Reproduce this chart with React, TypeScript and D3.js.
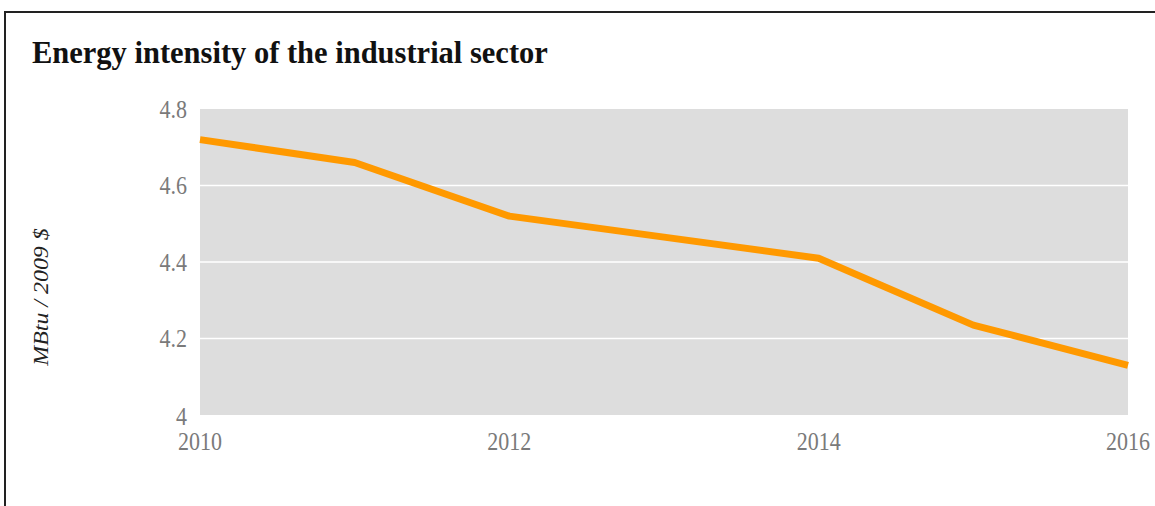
import { useEffect, useRef } from "react";
import * as d3 from "d3";

const years = [2010, 2011, 2012, 2013, 2014, 2015, 2016];
const intensity = [4.72, 4.66, 4.52, 4.465, 4.41, 4.235, 4.13];
const yTicks = [4, 4.2, 4.4, 4.6, 4.8];
const xTicks = [2010, 2012, 2014, 2016];

const titleText = "Energy intensity of the industrial sector";
const yAxisTitle = "MBtu / 2009 $";

export default function App() {
  const svgRef = useRef<SVGSVGElement>(null);
  const width = 1155;
  const height = 506;

  useEffect(() => {
    if (!svgRef.current) return;
    const svg = d3.select(svgRef.current);
    svg.selectAll("*").remove();

    const margin = { top: 109, right: 27, bottom: 91, left: 200 };
    const font = "'Liberation Serif', 'Times New Roman', serif";
    const stretch = 1.14; // source text looks slightly tall

    const x = d3
      .scaleLinear()
      .domain([2010, 2016])
      .range([margin.left, width - margin.right]);
    const y = d3
      .scaleLinear()
      .domain([4, 4.8])
      .range([height - margin.bottom, margin.top]);

    // frame
    svg
      .append("path")
      .attr("d", `M5,${height} L5,12 L${width},12`)
      .attr("fill", "none")
      .attr("stroke", "#222")
      .attr("stroke-width", 2);

    // title
    svg
      .append("text")
      .attr("transform", `translate(32,63) scale(1,1.05)`)
      .style("font-family", font)
      .style("font-weight", "bold")
      .style("font-size", "30.5px")
      .style("fill", "#111")
      .text(titleText);

    // plot background
    svg
      .append("rect")
      .attr("x", x(2010))
      .attr("y", y(4.8))
      .attr("width", x(2016) - x(2010))
      .attr("height", y(4) - y(4.8))
      .attr("fill", "#dddddd");

    // gridlines
    svg
      .append("g")
      .selectAll("line")
      .data(yTicks.filter((t) => t > 4 && t < 4.8))
      .enter()
      .append("line")
      .attr("x1", x(2010))
      .attr("x2", x(2016))
      .attr("y1", (d) => y(d))
      .attr("y2", (d) => y(d))
      .attr("stroke", "#ffffff")
      .attr("stroke-width", 1.5);

    // y tick labels
    svg
      .append("g")
      .selectAll("text")
      .data(yTicks)
      .enter()
      .append("text")
      .attr("transform", (d) => `translate(187,${y(d) + (d === 4 ? 1 : 0)}) scale(1,${stretch})`)
      .attr("text-anchor", "end")
      .attr("dy", "0.34em")
      .style("font-family", font)
      .style("font-size", "22px")
      .style("fill", "#7a7a7a")
      .text((d) => (d === 4 ? "4" : d3.format(".1f")(d)));

    // x tick labels
    svg
      .append("g")
      .selectAll("text")
      .data(xTicks)
      .enter()
      .append("text")
      .attr("transform", (d) => `translate(${x(d)},450) scale(1,${stretch})`)
      .attr("text-anchor", "middle")
      .style("font-family", font)
      .style("font-size", "22px")
      .style("fill", "#7a7a7a")
      .text((d) => String(d));

    // y axis title
    svg
      .append("text")
      .attr("transform", `translate(48,297) scale(1,${stretch}) rotate(-90)`)
      .attr("text-anchor", "middle")
      .style("font-family", font)
      .style("font-style", "italic")
      .style("font-size", "21px")
      .style("fill", "#222")
      .text(yAxisTitle);

    // data line
    const line = d3
      .line<number>()
      .x((d, i) => x(years[i]))
      .y((d) => y(d));

    svg
      .append("path")
      .attr("d", line(intensity))
      .attr("fill", "none")
      .attr("stroke", "#ff9900")
      .attr("stroke-width", 7)
      .attr("stroke-linejoin", "round");
  }, []);

  return (
    <div style={{ position: "absolute", left: 0, top: 0 }}>
      <svg ref={svgRef} width={width} height={height} style={{ display: "block" }}></svg>
    </div>
  );
}
